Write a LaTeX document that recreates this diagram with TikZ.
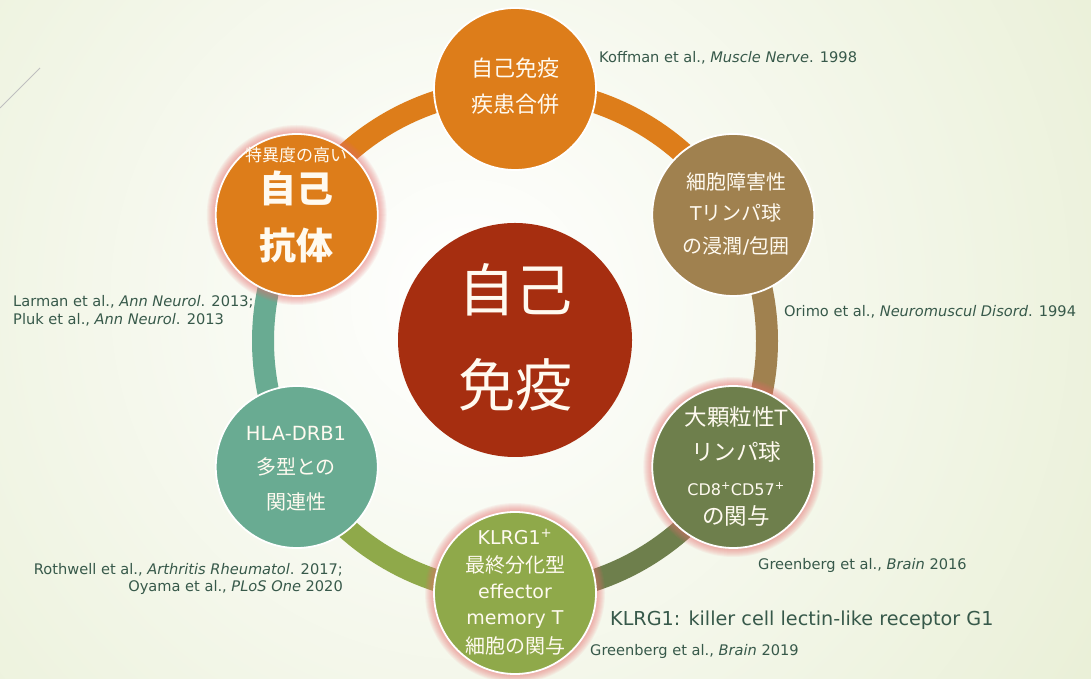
\documentclass[tikz,border=0pt]{standalone}
\usepackage{fontspec}
\setmainfont{DejaVu Sans}
\newfontfamily\jp{Noto Sans CJK JP}
\newfontfamily\lat{DejaVu Sans}
\usetikzlibrary{calc}
\definecolor{bgc}{RGB}{234,240,216}
\definecolor{corange}{RGB}{221,125,26}
\definecolor{cbrown}{RGB}{160,129,79}
\definecolor{cdkgreen}{RGB}{110,127,76}
\definecolor{colive}{RGB}{143,169,74}
\definecolor{cteal}{RGB}{105,171,146}
\definecolor{ccenter}{RGB}{166,46,16}
\definecolor{ccite}{RGB}{55,89,74}
\definecolor{cglow}{RGB}{232,110,110}
\definecolor{ctext}{RGB}{255,250,240}
\newcommand{\fsz}[1]{\fontsize{#1}{#1}\selectfont}
\begin{document}
\begin{tikzpicture}[x=1pt,y=1pt,
  ringarc/.style={line width=22pt},
  bubble/.style={circle, minimum size=162pt, inner sep=0pt, draw=white, line width=1.8pt},
  ctr/.style={circle, minimum size=234pt, inner sep=0pt, fill=ccenter},
  txt/.style={text=ctext, inner sep=0pt, anchor=center, font=\jp},
  cite/.style={text=ccite, inner sep=0pt, anchor=base west, font=\fsz{14.6}},
  citer/.style={text=ccite, inner sep=0pt, anchor=base east, font=\fsz{14.6}}]
\useasboundingbox (0,0) rectangle (1091,679);
\fill[bgc] (0,0) rectangle (1091,679);
\shade[inner color=white, outer color=bgc] (470,380) circle (720);
\draw[black!25, line width=0.8pt] (0,571) -- (40,611);
\coordinate (rc) at (515,338);
% circle positions
\coordinate (ptop) at ($(rc)+(90:252)$);
\coordinate (prt) at ($(rc)+(30:252)$);
\coordinate (prb) at ($(rc)+(-30:252)$);
\coordinate (pb) at ($(rc)+(-90:252)$);
\coordinate (plb) at ($(rc)+(210:252)$);
\coordinate (plt) at ($(rc)+(150:252)$);
% ring arcs
\draw[ringarc, corange] (ptop) arc[start angle=90, end angle=30, radius=252];
\draw[ringarc, cbrown] (prt) arc[start angle=30, end angle=-30, radius=252];
\draw[ringarc, cdkgreen] (prb) arc[start angle=-30, end angle=-90, radius=252];
\draw[ringarc, colive] (pb) arc[start angle=-90, end angle=-150, radius=252];
\draw[ringarc, cteal] (plb) arc[start angle=210, end angle=150, radius=252];
\draw[ringarc, corange] (plt) arc[start angle=150, end angle=90, radius=252];
% glows
\foreach \p in {plt,prb,pb}{
  \foreach \i in {1,...,9}{
    \fill[cglow, opacity=0.08] (\p) circle (81+\i);
  }
}
% bubbles
\node[bubble, fill=corange] (ntop) at (ptop) {};
\node[bubble, fill=cbrown] (nrt) at (prt) {};
\node[bubble, fill=cdkgreen] (nrb) at (prb) {};
\node[bubble, fill=colive] (nb) at (pb) {};
\node[bubble, fill=cteal] (nlb) at (plb) {};
\node[bubble, fill=corange] (nlt) at (plt) {};
\node[ctr] (nc) at (515,339) {};
% center text
\node[txt, font=\jp\fsz{57}] (c1) at (515,389) {自己};
\node[txt, font=\jp\fsz{57}] (c2) at (515,294) {免疫};
% top
\node[txt, font=\jp\fsz{22}] (t1) at (515,611) {自己免疫};
\node[txt, font=\jp\fsz{22}] (t2) at (515,575) {疾患合併};
% right top
\node[txt, font=\jp\fsz{20}] (rt1) at (736,497) {細胞障害性};
\node[txt, font=\jp\fsz{20}] (rt2) at (736,466) {{\lat\fsz{19}T}リンパ球};
\node[txt, font=\jp\fsz{20}] (rt3) at (736,433) {の浸潤{\lat\fsz{19}/}包囲};
% right bottom
\node[txt, font=\jp\fsz{22.5}] (rb1) at (736,262) {大顆粒性{\lat\fsz{21}T}};
\node[txt, font=\jp\fsz{22.5}] (rb2) at (736,227) {リンパ球};
\node[txt, font=\lat\fsz{16}] (rb3) at (736,190) {CD8\textsuperscript{+}CD57\textsuperscript{+}};
\node[txt, font=\jp\fsz{22.5}] (rb4) at (736,163) {の関与};
% bottom
\node[txt, font=\lat\fsz{19}] (b1) at (515,142) {KLRG1\textsuperscript{+}};
\node[txt, font=\jp\fsz{20}] (b2) at (515,114) {最終分化型};
\node[txt, font=\lat\fsz{19}] (b3) at (515,88) {effector};
\node[txt, font=\lat\fsz{19}] (b4) at (515,59) {memory T};
\node[txt, font=\jp\fsz{20}] (b5) at (515,33) {細胞の関与};
% left bottom
\node[txt, font=\lat\fsz{19.5}] (lb1) at (296,246) {HLA-DRB1};
\node[txt, font=\jp\fsz{20}] (lb2) at (296,212) {多型との};
\node[txt, font=\jp\fsz{20}] (lb3) at (296,177) {関連性};
% left top
\node[txt, font=\jp\fsz{17}] (lt1) at (296,524) {特異度の高い};
\node[txt, font=\jp\bfseries\fsz{37}] (lt2) at (296,491) {自己};
\node[txt, font=\jp\bfseries\fsz{37}] (lt3) at (296,434) {抗体};
% citations
\node[cite] (r1) at (599,616) {Koffman et al., \textit{Muscle Nerve}. 1998};
\node[cite] (r2) at (784,362) {Orimo et al., \textit{Neuromuscul Disord}. 1994};
\node[cite] (r3) at (758,109) {Greenberg et al., \textit{Brain} 2016};
\node[cite, font=\fsz{19.2}] (r4) at (610,53) {KLRG1: killer cell lectin-like receptor G1};
\node[cite] (r5) at (590,23) {Greenberg et al., \textit{Brain} 2019};
\node[cite] (r6) at (13,372) {Larman et al., \textit{Ann Neurol}. 2013;};
\node[cite] (r7) at (13,354) {Pluk et al., \textit{Ann Neurol}. 2013};
\node[citer] (r8) at (343,104) {Rothwell et al., \textit{Arthritis Rheumatol}. 2017;};
\node[citer] (r9) at (343,87) {Oyama et al., \textit{PLoS One} 2020};
\end{tikzpicture}
\end{document}
